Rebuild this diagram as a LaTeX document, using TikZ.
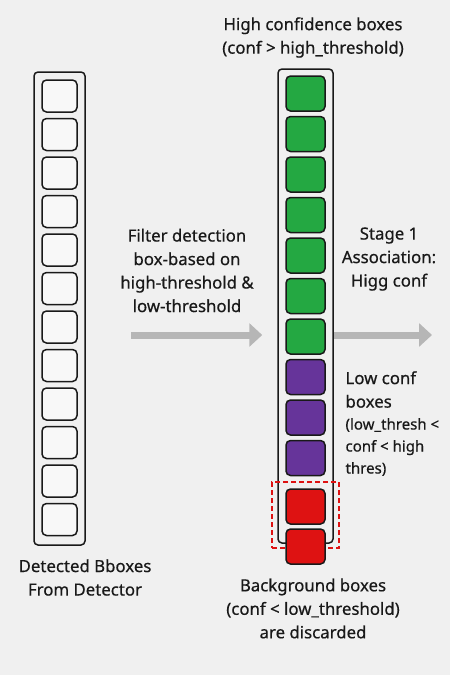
\documentclass[tikz,border=0pt]{standalone}
\usepackage{fontspec}
\setmainfont{Noto Sans}[FakeBold=0.5]

\usetikzlibrary{arrows.meta}

\definecolor{pagegray}{RGB}{240,240,240}
\definecolor{slotwhite}{RGB}{248,248,248}
\definecolor{highgreen}{RGB}{36,168,66}
\definecolor{lowpurple}{RGB}{102,52,154}
\definecolor{bgred}{RGB}{222,18,18}
\definecolor{flowgray}{RGB}{182,182,182}
\definecolor{inkblack}{RGB}{25,25,25}

\begin{document}
\begin{tikzpicture}[x=1pt, y=-1pt, font=\fontsize{16.8}{23.5}\selectfont, text=inkblack,
  column/.style={draw=inkblack, line width=1.5pt, rounded corners=4pt, fill=none, inner sep=0pt},
  slot/.style={draw=inkblack, line width=1.5pt, rounded corners=4.5pt, inner sep=0pt},
  detslot/.style={slot, fill=slotwhite, minimum width=35pt, minimum height=32pt},
  trkslot/.style={slot, minimum width=39pt, minimum height=35pt},
  flowarrow/.style={draw=flowgray, line width=7pt, -{Triangle[length=13pt, width=23pt]}},
  discard/.style={draw=bgred, line width=1.3pt, dash pattern=on 5pt off 3pt, inner sep=0pt}
]
  \def\detpitch{38.5}
  \def\trkpitch{40.5}

  \fill[pagegray] (0,0) rectangle (450,675);
  \useasboundingbox (0,0) rectangle (450,675);

  \node[column, minimum width=51pt, minimum height=473pt] (detcol) at (59.5,308.5) {};
  \node[column, minimum width=55pt, minimum height=474pt] (trkcol) at (305.5,306) {};

  \foreach \i in {0,...,11} {
    \node[detslot] (det\i) at (59.5,{96+\i*\detpitch}) {};
  }

  \node[discard, minimum width=67pt, minimum height=66pt] (bgframe) at (305.5,515) {};

  \foreach \i in {0,...,6} {
    \node[trkslot, fill=highgreen] (trk\i) at (305.5,{93.5+\i*\trkpitch}) {};
  }
  \foreach \i in {7,8,9} {
    \node[trkslot, fill=lowpurple] (trk\i) at (305.5,{93.5+\i*\trkpitch}) {};
  }
  \node[trkslot, fill=bgred] (bg0) at (305.5,506.5) {};
  \node[trkslot, fill=bgred] (bg1) at (305.5,546.5) {};

  \coordinate (filtstart) at (131,335);
  \coordinate (stagend) at (432,335);
  \draw[flowarrow, shorten >=15pt] (filtstart) -- (filtstart -| trkcol.west);
  \draw[flowarrow] (filtstart -| trkcol.east) -- (stagend);

  \node[align=center] (hightitle) at (313,37.5) {High confidence boxes\\(conf > high\_threshold)};
  \node[align=center] (filtertext) at (187,270.5) {Filter detection\\box-based on\\high-threshold \&\\low-threshold};
  \node[align=center] (stagetext) at (389,259) {Stage 1\\Association:\\Higg conf};
  \node[align=left, anchor=west] (lowtitle) at (342,389.5) {Low conf\\boxes};
  \node[align=left, anchor=west, font=\fontsize{15}{22}\selectfont] (lowrange) at (342,447) {(low\_thresh <\\conf < high\\thres)};
  \node[align=center] (detlabel) at (85,577.5) {Detected Bboxes\\From Detector};
  \node[align=center] (bglabel) at (313,608.5) {Background boxes\\(conf < low\_threshold)\\are discarded};
\end{tikzpicture}
\end{document}
